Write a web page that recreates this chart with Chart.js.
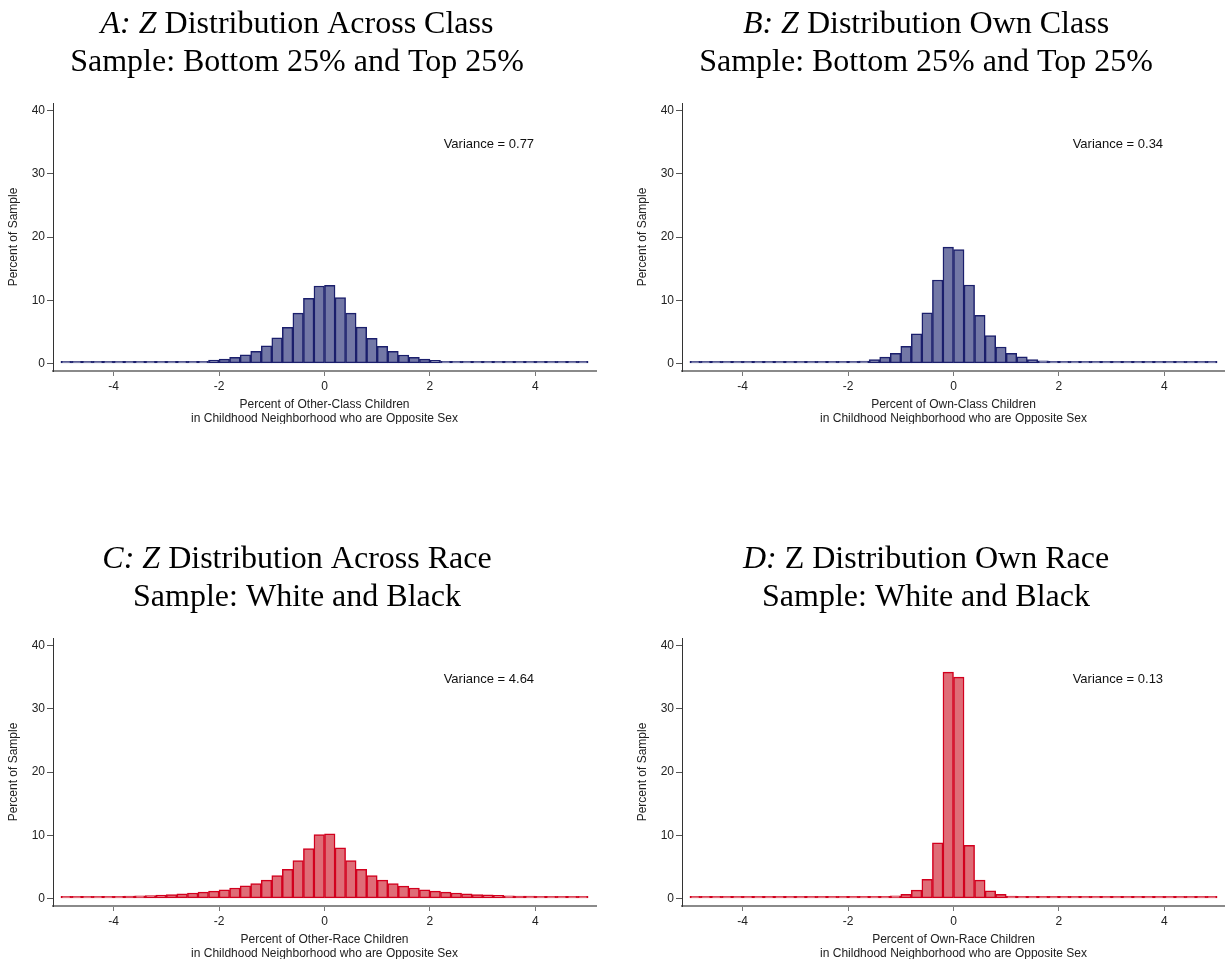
<!DOCTYPE html>
<html>
<head>
<meta charset="utf-8">
<script src="https://cdn.jsdelivr.net/npm/chart.js@4.4.1/dist/chart.umd.min.js"></script>
<style>
  html, body { margin: 0; padding: 0; background: #fff; overflow: hidden; }
  body { width: 1225px; height: 959px; position: relative; }
  .panel { position: absolute; width: 600px; height: 424px; }
  .panel canvas { display: block; }
</style>
</head>
<body>
<div class="panel" style="left:0;top:0"><canvas id="histA" width="600" height="424"></canvas></div>
<div class="panel" style="left:629px;top:0"><canvas id="histB" width="600" height="424"></canvas></div>
<div class="panel" style="left:0;top:535px"><canvas id="histC" width="600" height="424"></canvas></div>
<div class="panel" style="left:629px;top:535px"><canvas id="histD" width="600" height="424"></canvas></div>
<script>
// midpoints of the 0.2-wide bins between -5 and 5
var binCenters = [-4.9, -4.7, -4.5, -4.3, -4.1, -3.9, -3.7, -3.5, -3.3, -3.1,
                  -2.9, -2.7, -2.5, -2.3, -2.1, -1.9, -1.7, -1.5, -1.3, -1.1,
                  -0.9, -0.7, -0.5, -0.3, -0.1, 0.1, 0.3, 0.5, 0.7, 0.9,
                  1.1, 1.3, 1.5, 1.7, 1.9, 2.1, 2.3, 2.5, 2.7, 2.9,
                  3.1, 3.3, 3.5, 3.7, 3.9, 4.1, 4.3, 4.5, 4.7, 4.9];
var xTicks = [-4, -2, 0, 2, 4];
var yTicks = [0, 10, 20, 30, 40];

// percent of sample in each bin
var acrossClass = [0.03, 0.03, 0.03, 0.03, 0.04, 0.04, 0.05, 0.05, 0.06, 0.07,
                   0.09, 0.14, 0.22, 0.33, 0.52, 0.68, 0.98, 1.37, 1.93, 2.78,
                   4.05, 5.7, 7.95, 10.3, 12.25, 12.35, 10.4, 7.95, 5.75, 3.98,
                   2.72, 1.93, 1.33, 0.95, 0.67, 0.5, 0.34, 0.22, 0.14, 0.1,
                   0.08, 0.07, 0.06, 0.05, 0.05, 0.04, 0.04, 0.03, 0.03, 0.03];
var ownClass = [0.02, 0.02, 0.02, 0.02, 0.02, 0.02, 0.03, 0.03, 0.03, 0.03,
                0.03, 0.04, 0.05, 0.07, 0.1, 0.2, 0.35, 0.6, 1.0, 1.6,
                2.7, 4.7, 8.0, 13.2, 18.4, 18.0, 12.4, 7.6, 4.4, 2.6,
                1.6, 1.05, 0.6, 0.4, 0.2, 0.12, 0.08, 0.06, 0.05, 0.04,
                0.04, 0.03, 0.03, 0.03, 0.02, 0.02, 0.02, 0.02, 0.02, 0.02];
var acrossRace = [0.15, 0.17, 0.2, 0.22, 0.3, 0.33, 0.37, 0.42, 0.45, 0.52,
                  0.62, 0.72, 0.85, 1.0, 1.15, 1.35, 1.65, 2.0, 2.35, 2.9,
                  3.6, 4.6, 6.0, 7.9, 10.1, 10.2, 8.0, 6.0, 4.6, 3.6,
                  2.9, 2.35, 1.95, 1.65, 1.35, 1.15, 1.0, 0.85, 0.72, 0.62,
                  0.55, 0.5, 0.42, 0.37, 0.35, 0.32, 0.25, 0.2, 0.17, 0.15];
var ownRace = [0.02, 0.02, 0.02, 0.02, 0.02, 0.02, 0.02, 0.02, 0.02, 0.02,
               0.02, 0.02, 0.03, 0.03, 0.03, 0.04, 0.06, 0.1, 0.2, 0.4,
               0.65, 1.3, 3.0, 8.8, 35.8, 35.0, 8.4, 2.9, 1.2, 0.65,
               0.35, 0.2, 0.12, 0.07, 0.05, 0.03, 0.03, 0.02, 0.02, 0.02,
               0.02, 0.02, 0.02, 0.02, 0.02, 0.02, 0.02, 0.02, 0.02, 0.02];

var navy = { fill: '#7378a6', line: '#1b1f6c' };
var red = { fill: '#df6d77', line: '#d2001e' };

var sans = 'Liberation Sans, Arial, sans-serif';
var serif = 'Liberation Serif, Times New Roman, serif';

function serifFont(italic) {
  return (italic ? 'italic ' : '') + '32px ' + serif;
}

// two-line heading with italic runs, plus the variance note inside the plot
function headingPlugin(lines, note) {
  return {
    id: 'heading',
    afterDraw: function (chart) {
      var ctx = chart.ctx;
      var baselines = [33, 71];
      ctx.save();
      ctx.fillStyle = '#000';
      ctx.textBaseline = 'alphabetic';
      ctx.textAlign = 'left';
      lines.forEach(function (runs, i) {
        var widths = runs.map(function (r) {
          ctx.font = serifFont(r[1]);
          return ctx.measureText(r[0]).width;
        });
        var total = widths.reduce(function (a, b) { return a + b; }, 0);
        var x = 297 - total / 2;
        runs.forEach(function (r, j) {
          ctx.font = serifFont(r[1]);
          ctx.fillText(r[0], x, baselines[i]);
          x += widths[j];
        });
      });
      ctx.font = '13px ' + sans;
      ctx.fillStyle = '#111';
      ctx.textBaseline = 'middle';
      ctx.fillText(note, chart.scales.x.getPixelForValue(2.26), chart.scales.y.getPixelForValue(34.7));
      ctx.restore();
    }
  };
}

function drawHistogram(id, values, colors, heading, xTitle, note) {
  var points = binCenters.map(function (x, i) { return { x: x, y: values[i] }; });
  new Chart(document.getElementById(id), {
    type: 'bar',
    data: {
      datasets: [{
        data: points,
        backgroundColor: colors.fill,
        borderColor: colors.line,
        borderWidth: 1.5,
        borderSkipped: false,
        barPercentage: 1,
        categoryPercentage: 1,
        minBarLength: 2
      }]
    },
    options: {
      responsive: false,
      animation: false,
      layout: { padding: { top: 103, right: 4, bottom: 0, left: 0 } },
      plugins: { legend: { display: false }, tooltip: { enabled: false } },
      scales: {
        x: {
          type: 'linear',
          min: -5.15,
          max: 5.15,
          offset: false,
          afterBuildTicks: function (axis) {
            axis.ticks = xTicks.map(function (v) { return { value: v }; });
          },
          afterFit: function (axis) { axis.height = 53; },
          grid: { offset: false, drawOnChartArea: false, tickLength: 5, tickColor: '#777', tickWidth: 1 },
          border: { color: '#8a8a8a', width: 2 },
          ticks: { font: { family: sans, size: 12 }, color: '#222', padding: 3, maxRotation: 0 },
          title: { display: true, text: xTitle, color: '#222', padding: { top: 0, bottom: -1.5 },
                   font: { family: sans, size: 12, lineHeight: 1.17 } }
        },
        y: {
          min: -1.2,
          max: 41.2,
          afterBuildTicks: function (axis) {
            axis.ticks = yTicks.map(function (v) { return { value: v }; });
          },
          afterFit: function (axis) { axis.width = 53; },
          grid: { drawOnChartArea: false, tickLength: 6, tickColor: '#555', tickWidth: 1 },
          border: { color: '#333', width: 1 },
          ticks: { font: { family: sans, size: 12 }, color: '#222', padding: 2 },
          title: { display: true, text: 'Percent of Sample', color: '#222',
                   padding: { top: 7, bottom: 0 }, font: { family: sans, size: 12, lineHeight: 1.17 } }
        }
      }
    },
    plugins: [headingPlugin(heading, note)]
  });
}

drawHistogram('histA', acrossClass, navy,
  [[['A:', true], [' ', false], ['Z', true], [' Distribution Across Class', false]],
   [['Sample: Bottom 25% and Top 25%', false]]],
  ['Percent of Other-Class Children', 'in Childhood Neighborhood who are Opposite Sex'],
  'Variance = 0.77');

drawHistogram('histB', ownClass, navy,
  [[['B:', true], [' ', false], ['Z', true], [' Distribution Own Class', false]],
   [['Sample: Bottom 25% and Top 25%', false]]],
  ['Percent of Own-Class Children', 'in Childhood Neighborhood who are Opposite Sex'],
  'Variance = 0.34');

drawHistogram('histC', acrossRace, red,
  [[['C:', true], [' ', false], ['Z', true], [' Distribution Across Race', false]],
   [['Sample: White and Black', false]]],
  ['Percent of Other-Race Children', 'in Childhood Neighborhood who are Opposite Sex'],
  'Variance = 4.64');

drawHistogram('histD', ownRace, red,
  [[['D:', true], [' Z Distribution Own Race', false]],
   [['Sample: White and Black', false]]],
  ['Percent of Own-Race Children', 'in Childhood Neighborhood who are Opposite Sex'],
  'Variance = 0.13');
</script>
</body>
</html>
